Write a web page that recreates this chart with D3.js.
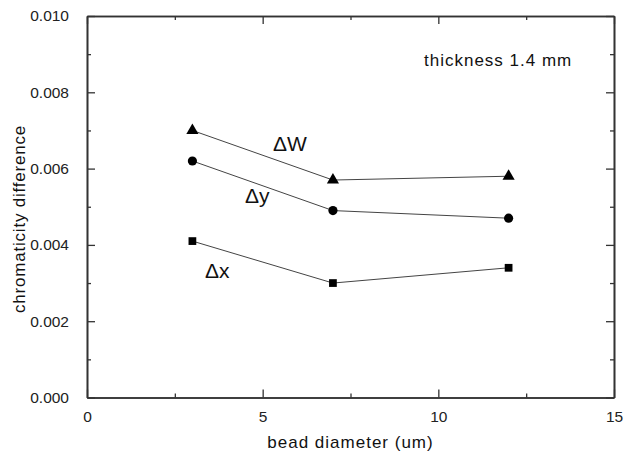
<!DOCTYPE html>
<html>
<head>
<meta charset="utf-8">
<script src="https://cdn.jsdelivr.net/npm/d3@7/dist/d3.min.js"></script>
<style>
  html, body { margin: 0; padding: 0; background: #fff; }
  svg { display: block; font-family: "Liberation Sans", Arial, sans-serif; }
</style>
</head>
<body>
<svg id="chart" width="634" height="454"></svg>
<script>
// bead diameters (um)
const beadDiameter = [3, 7, 12];

// chromaticity differences per series
const deltaW = [0.0070, 0.0057, 0.0058];
const deltaY = [0.0062, 0.0049, 0.0047];
const deltaX = [0.0041, 0.0030, 0.0034];

const seriesNames = ['\u0394W', '\u0394y', '\u0394x'];
const seriesMarkers = ['triangle', 'circle', 'square'];

const xMajorTicks = [0, 5, 10, 15];
const xMinorTicks = [2.5, 7.5, 12.5];
const yMajorTicks = [0, 0.002, 0.004, 0.006, 0.008, 0.010];
const yMinorTicks = [0.001, 0.003, 0.005, 0.007, 0.009];

const svg = d3.select('#chart');
const width = 634, height = 454;
const margin = { top: 16, right: 20, bottom: 56.5, left: 87 };
const plotW = width - margin.left - margin.right;
const plotH = height - margin.top - margin.bottom;

const x = d3.scaleLinear().domain([0, 15]).range([0, plotW]);
const y = d3.scaleLinear().domain([0, 0.010]).range([plotH, 0]);

const g = svg.append('g').attr('transform', `translate(${margin.left},${margin.top})`);

const axisColor = '#333';

// Axes, ticks pointing inward on all four sides
function styleAxis(sel) {
    sel.selectAll('.domain').attr('stroke', axisColor).attr('stroke-width', 1.6);
    sel.selectAll('.tick line').attr('stroke', axisColor).attr('stroke-width', 1.3);
    sel.selectAll('.tick text')
        .attr('fill', '#222')
        .style('font-size', '15.5px');
}

g.append('g')
    .attr('transform', `translate(0,${plotH})`)
    .call(d3.axisBottom(x).tickValues(xMajorTicks).tickSizeInner(-8).tickSizeOuter(0).tickPadding(13).tickFormat(d3.format('d')))
    .call(styleAxis);
g.append('g')
    .attr('transform', `translate(0,${plotH})`)
    .call(d3.axisBottom(x).tickValues(xMinorTicks).tickSizeInner(-4).tickSizeOuter(0).tickFormat(''))
    .call(styleAxis);

g.append('g')
    .call(d3.axisTop(x).tickValues(xMajorTicks).tickSizeInner(-8).tickSizeOuter(0).tickFormat(''))
    .call(styleAxis);
g.append('g')
    .call(d3.axisTop(x).tickValues(xMinorTicks).tickSizeInner(-4).tickSizeOuter(0).tickFormat(''))
    .call(styleAxis);

g.append('g')
    .call(d3.axisLeft(y).tickValues(yMajorTicks).tickSizeInner(-8).tickSizeOuter(0).tickPadding(18).tickFormat(d3.format('.3f')))
    .call(styleAxis);
g.append('g')
    .call(d3.axisLeft(y).tickValues(yMinorTicks).tickSizeInner(-4).tickSizeOuter(0).tickFormat(''))
    .call(styleAxis);

g.append('g')
    .attr('transform', `translate(${plotW},0)`)
    .call(d3.axisRight(y).tickValues(yMajorTicks).tickSizeInner(-8).tickSizeOuter(0).tickFormat(''))
    .call(styleAxis);
g.append('g')
    .attr('transform', `translate(${plotW},0)`)
    .call(d3.axisRight(y).tickValues(yMinorTicks).tickSizeInner(-4).tickSizeOuter(0).tickFormat(''))
    .call(styleAxis);

// Series lines + markers
const allSeries = [deltaW, deltaY, deltaX];
const line = d3.line()
    .x((d, i) => x(beadDiameter[i]))
    .y(d => y(d));

const symbolTypes = {
    triangle: d3.symbolTriangle,
    circle: d3.symbolCircle,
    square: d3.symbolSquare
};
const symbolSizes = { triangle: 64, circle: 66, square: 60 };

allSeries.forEach((values, s) => {
    g.append('path')
        .datum(values)
        .attr('d', line)
        .attr('fill', 'none')
        .attr('stroke', '#444')
        .attr('stroke-width', 1);

    const marker = seriesMarkers[s];
    g.selectAll(`.pt-${s}`)
        .data(values)
        .enter()
        .append('path')
        .attr('class', `pt-${s}`)
        .attr('transform', (d, i) => `translate(${x(beadDiameter[i])},${y(d)})`)
        .attr('d', d3.symbol().type(symbolTypes[marker]).size(symbolSizes[marker]))
        .attr('fill', '#000');
});

// Series labels
const labelPos = [
    { x: 273, y: 151 },
    { x: 245, y: 203 },
    { x: 205, y: 278 }
];
seriesNames.forEach((name, i) => {
    svg.append('text')
        .attr('x', labelPos[i].x)
        .attr('y', labelPos[i].y)
        .style('font-size', '21px')
        .attr('fill', '#111')
        .text(name);
});

// Annotation
svg.append('text')
    .attr('x', 424)
    .attr('y', 66)
    .style('font-size', '17px')
    .style('letter-spacing', '1px')
    .attr('fill', '#111')
    .text('thickness 1.4 mm');

// Axis titles
svg.append('text')
    .attr('x', margin.left + plotW / 2)
    .attr('y', 448)
    .attr('text-anchor', 'middle')
    .style('font-size', '17px')
    .style('letter-spacing', '1px')
    .attr('fill', '#111')
    .text('bead diameter (um)');

svg.append('text')
    .attr('transform', `translate(25,219) rotate(-90)`)
    .attr('text-anchor', 'middle')
    .style('font-size', '17px')
    .style('letter-spacing', '0.8px')
    .attr('fill', '#111')
    .text('chromaticity difference');
</script>
</body>
</html>
